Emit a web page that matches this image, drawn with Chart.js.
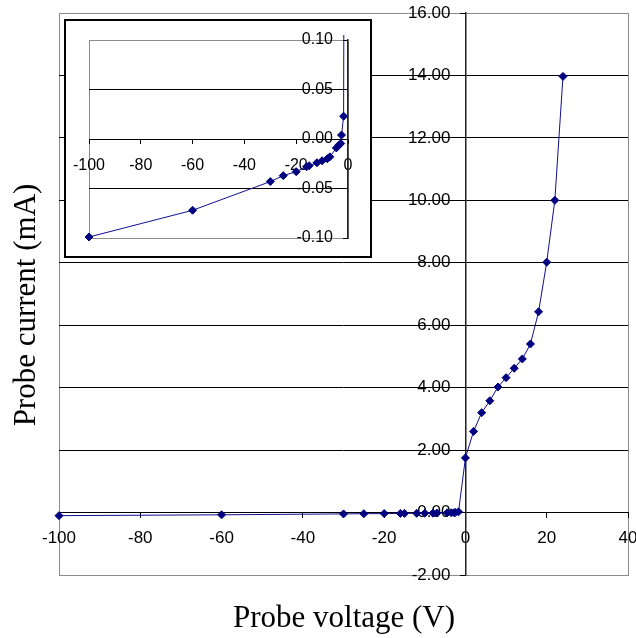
<!DOCTYPE html>
<html><head><meta charset="utf-8">
<script src="https://cdn.jsdelivr.net/npm/chart.js@4.4.0/dist/chart.umd.min.js"></script>
<style>
html,body{margin:0;padding:0;background:#fff;}
#wrap{position:relative;width:636px;height:638px;overflow:hidden;}
#main{position:absolute;left:0;top:0;}
#inset{position:absolute;left:64px;top:19px;}
</style></head><body>
<div id="wrap"><canvas id="main" width="636" height="638"></canvas><canvas id="inset" width="308" height="239"></canvas></div>
<script>
// Probe voltage (V)
const voltage = [-100, -60, -30, -25, -20, -16, -15, -12, -10, -8, -7, -4.5, -3.5, -2.8, -2.5, -1.7, 0, 2, 4, 6, 8, 10, 12, 14, 16, 18, 20, 22, 24];
// Probe current (mA)
const current = [-0.099, -0.072, -0.043, -0.037, -0.033, -0.028, -0.027, -0.024, -0.022, -0.020, -0.018, -0.009, -0.006, -0.0045, 0.004, 0.023, 1.75, 2.6, 3.2, 3.58, 4.02, 4.32, 4.62, 4.92, 5.4, 6.43, 8.02, 10.0, 13.97];

const mainXTicks = [-100, -80, -60, -40, -20, 0, 20, 40];
const mainYTicks = [-2, 0, 2, 4, 6, 8, 10, 12, 14, 16];
const insetXTicks = [-100, -80, -60, -40, -20, 0];
const insetYTicks = [-0.10, -0.05, 0, 0.05, 0.10];
const xTitle = 'Probe voltage (V)';
const yTitle = 'Probe current (mA)';

Chart.defaults.devicePixelRatio = 1;
Chart.defaults.font.family = "'Liberation Sans', Arial, sans-serif";

const points = voltage.map((v, i) => ({x: v, y: current[i]}));

function dataset() {
  return {
    data: points,
    showLine: true,
    borderColor: '#101090',
    borderWidth: 1,
    backgroundColor: '#000080',
    pointBackgroundColor: '#000080',
    pointBorderColor: '#000080',
    pointStyle: 'rectRot',
    pointRadius: 4,
    pointHoverRadius: 4,
    tension: 0,
    clip: {left: 5, top: 5, right: 5, bottom: 5}
  };
}

function frame(outer, yShift) {
  return {
    id: 'frame',
    beforeDraw(chart) {
      const c = chart.ctx, a = chart.chartArea;
      // y tick labels sit left of the crossing axis (tick + gap)
      const ys = chart.scales.y;
      ys._labelItems = ys._computeLabelItems(a);
      ys._labelItems.forEach(it => { it.options.translation[0] -= yShift; });
      c.save();
      c.fillStyle = '#fff';
      c.fillRect(0, 0, chart.width, chart.height);
      if (outer) {
        c.strokeStyle = '#000';
        c.lineWidth = 2;
        c.strokeRect(1, 1, chart.width - 2, chart.height - 2);
      }
      c.strokeStyle = '#8c8c8c';
      c.lineWidth = 1;
      c.strokeRect(Math.round(a.left) + 0.5, Math.round(a.top) + 0.5, Math.round(a.right - a.left), Math.round(a.bottom - a.top));
      c.restore();
    }
  };
}

const titles = {
  id: 'titles',
  afterDraw(chart) {
    const c = chart.ctx;
    c.save();
    c.fillStyle = '#000';
    c.font = "31px 'Liberation Serif', 'Times New Roman', serif";
    c.textAlign = 'center';
    c.textBaseline = 'middle';
    c.fillText(xTitle, 344, 619);
    c.translate(27, 305);
    c.rotate(-Math.PI / 2);
    c.fillText(yTitle, 0, 0);
    c.restore();
  }
};

const noPad = s => { s.paddingLeft = 0; s.paddingRight = 0; s.paddingTop = 0; s.paddingBottom = 0; };

function scales(xTicks, yTicks, xmin, xmax, ymin, ymax, fontSize, xPad, tl, yfmt) {
  return {
    x: {
      type: 'linear', min: xmin, max: xmax,
      position: {y: 0},
      afterBuildTicks: s => { s.ticks = xTicks.map(v => ({value: v})); },
      afterFit: noPad,
      grid: {drawOnChartArea: false, drawTicks: true, tickLength: tl, tickColor: '#000', color: '#000'},
      border: {display: true, color: '#000', width: 1},
      ticks: {color: '#000', font: {size: fontSize}, padding: xPad, maxRotation: 0, autoSkip: false,
        callback: v => String(v)}
    },
    y: {
      type: 'linear', min: ymin, max: ymax,
      position: {x: 0},
      afterBuildTicks: s => { s.ticks = yTicks.map(v => ({value: v})); },
      afterFit: noPad,
      grid: {drawTicks: true, tickLength: tl, tickColor: '#000',
        color: ctx => (ctx.tick && (Math.abs(ctx.tick.value - ymin) < 1e-9 || Math.abs(ctx.tick.value - ymax) < 1e-9)) ? 'rgba(0,0,0,0)' : '#000'},
      border: {display: true, color: '#222', width: 1.5},
      ticks: {color: '#000', font: {size: fontSize}, autoSkip: false,
        callback: v => yfmt(v)}
    }
  };
}

new Chart(document.getElementById('main'), {
  type: 'scatter',
  data: {datasets: [dataset()]},
  options: {
    responsive: false, animation: false,
    layout: {padding: {left: 59, top: 13, right: 8, bottom: 63}},
    plugins: {legend: {display: false}, tooltip: {enabled: false}},
    scales: scales(mainXTicks, mainYTicks, -100, 40, -2, 16, 17, 11, 5, v => Number(v).toFixed(2))
  },
  plugins: [frame(false, 15), titles]
});

new Chart(document.getElementById('inset'), {
  type: 'scatter',
  data: {datasets: [dataset()]},
  options: {
    responsive: false, animation: false,
    layout: {padding: {left: 25, top: 21, right: 24, bottom: 20}},
    plugins: {legend: {display: false}, tooltip: {enabled: false}},
    scales: scales(insetXTicks, insetYTicks, -100, 0, -0.1, 0.1, 16, 13, 4, v => Number(v).toFixed(2))
  },
  plugins: [frame(true, 15)]
});
</script>
</body></html>
